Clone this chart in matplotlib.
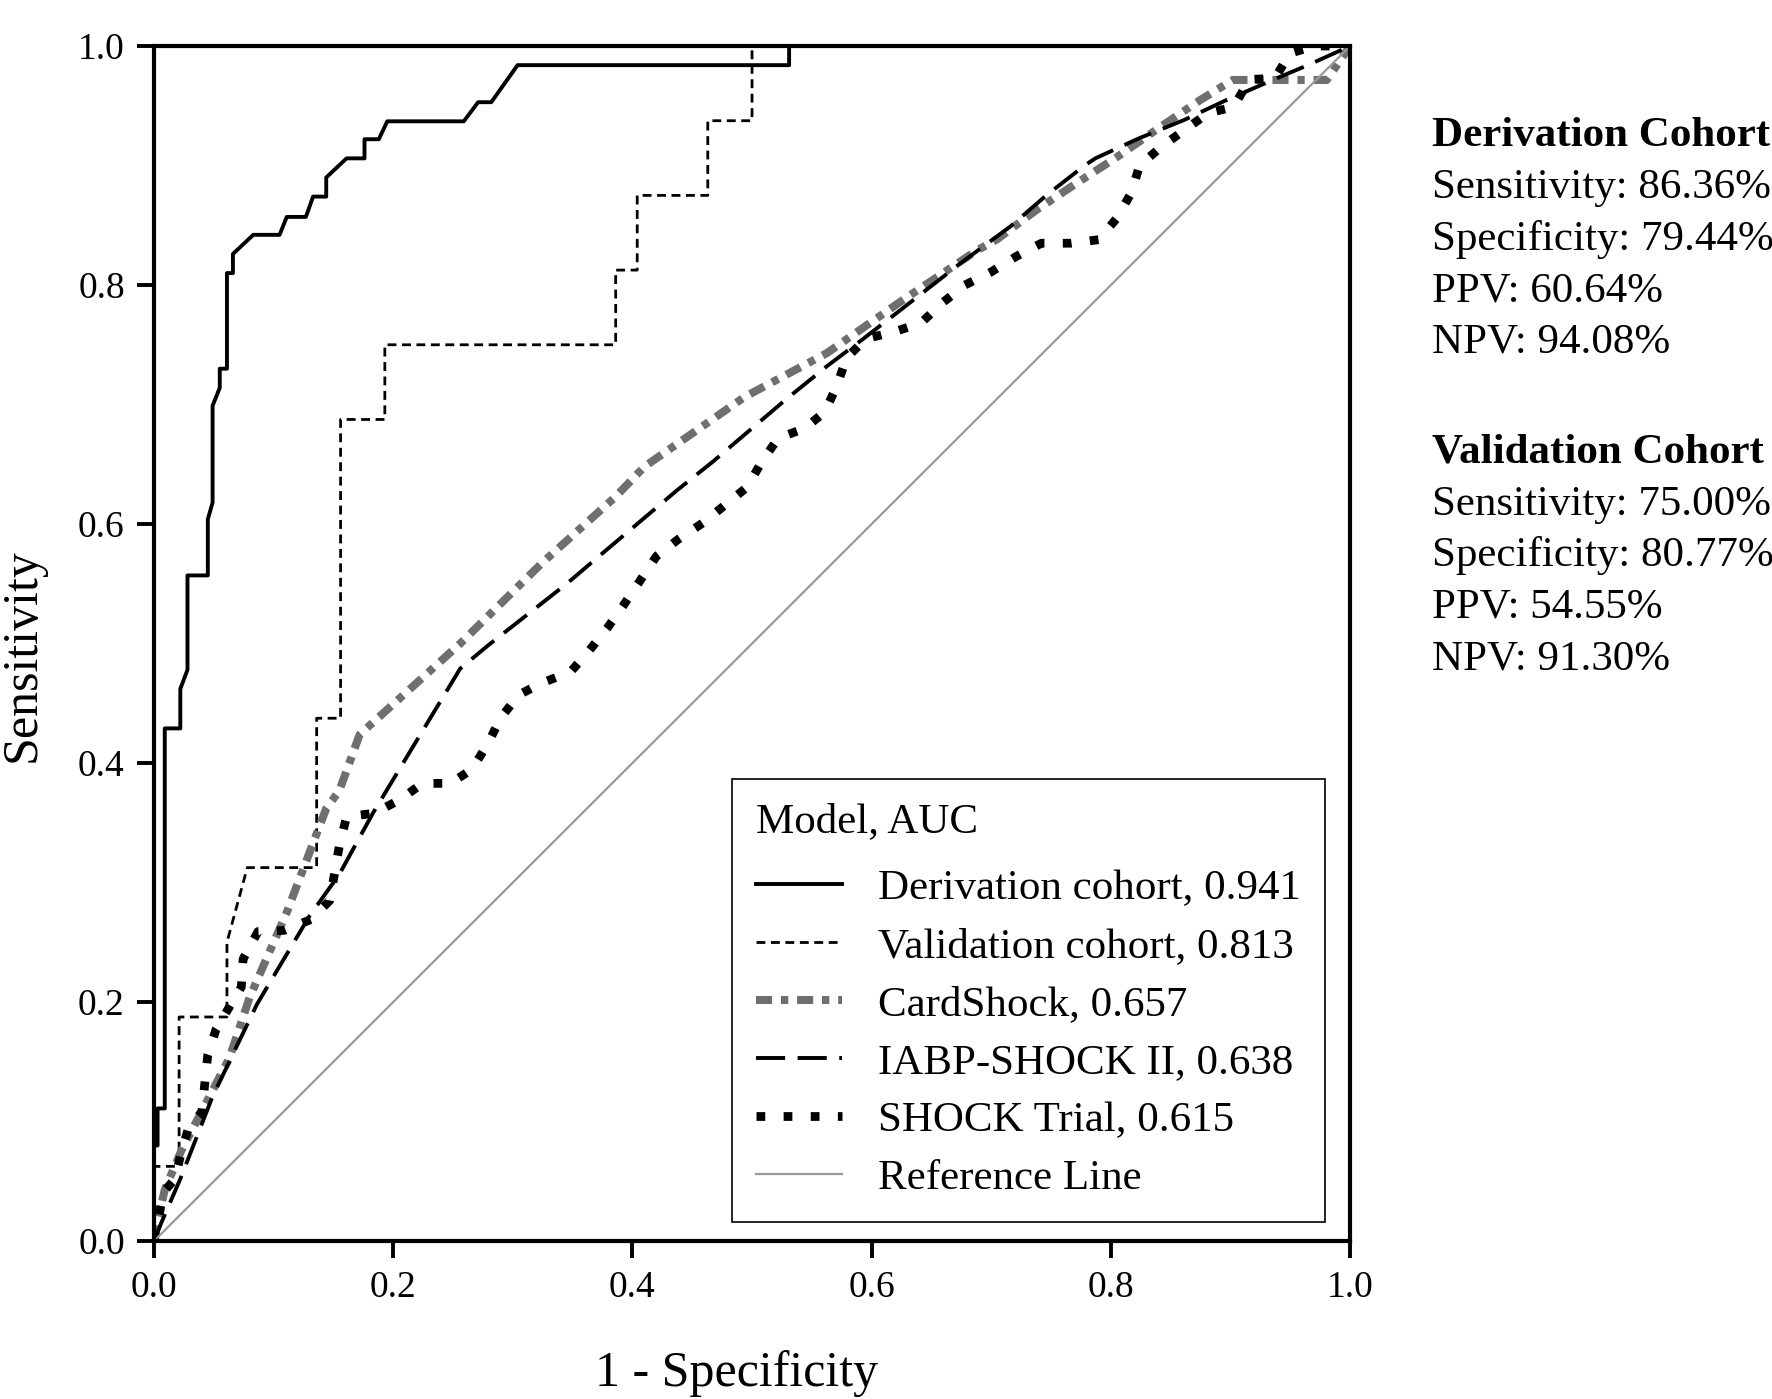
import matplotlib
matplotlib.use("Agg")
import matplotlib.pyplot as plt

plt.rcParams['font.family'] = ['Liberation Serif', 'DejaVu Serif']

# ROC curves: (1 - specificity, sensitivity)
deriv_x = [0, 0, 0.003, 0.003, 0.009, 0.009, 0.022, 0.022, 0.028, 0.028, 0.045, 0.045,
           0.049, 0.049, 0.055, 0.055, 0.061, 0.061, 0.066, 0.066, 0.083, 0.105, 0.111,
           0.127, 0.133, 0.144, 0.144, 0.161, 0.176, 0.176, 0.188, 0.195, 0.259, 0.271,
           0.282, 0.304, 0.531, 0.531, 1.0]
deriv_y = [0, 0.080, 0.080, 0.111, 0.111, 0.429, 0.429, 0.462, 0.478, 0.557, 0.557, 0.604,
           0.618, 0.699, 0.714, 0.730, 0.730, 0.810, 0.810, 0.826, 0.842, 0.842, 0.857,
           0.857, 0.874, 0.874, 0.890, 0.906, 0.906, 0.922, 0.922, 0.937, 0.937, 0.953,
           0.953, 0.984, 0.984, 1.0, 1.0]

valid_x = [0, 0, 0.021, 0.021, 0.061, 0.061, 0.078, 0.136, 0.136, 0.156, 0.156, 0.193,
           0.193, 0.386, 0.386, 0.404, 0.404, 0.463, 0.463, 0.500, 0.500, 1.0]
valid_y = [0, 0.0625, 0.0625, 0.1875, 0.1875, 0.25, 0.3125, 0.3125, 0.4375, 0.4375,
           0.6875, 0.6875, 0.75, 0.75, 0.8125, 0.8125, 0.875, 0.875, 0.9375, 0.9375, 1.0, 1.0]

card_x = [0, 0.005, 0.009, 0.023, 0.063, 0.080, 0.111, 0.144, 0.155, 0.172, 0.192, 0.256,
          0.324, 0.386, 0.410, 0.494, 0.5625, 0.624, 0.688, 0.7045, 0.738, 0.771, 0.805,
          0.841, 0.875, 0.902, 0.9805, 1.0]
card_y = [0, 0.025, 0.043, 0.076, 0.153, 0.204, 0.275, 0.362, 0.377, 0.424, 0.442, 0.500,
          0.567, 0.623, 0.648, 0.7065, 0.743, 0.786, 0.829, 0.838, 0.863, 0.885, 0.907,
          0.932, 0.955, 0.9716, 0.9716, 1.0]

iabp_x = [0, 0.006, 0.022, 0.049, 0.086, 0.130, 0.155, 0.183, 0.211, 0.256, 0.280, 0.345,
          0.372, 0.437, 0.467, 0.528, 0.5625, 0.593, 0.624, 0.674, 0.716, 0.746, 0.778,
          0.787, 0.824, 0.861, 0.897, 0.941, 0.967, 1.0]
iabp_y = [0, 0.015, 0.052, 0.121, 0.198, 0.272, 0.307, 0.358, 0.4045, 0.479, 0.499, 0.550,
          0.573, 0.628, 0.652, 0.704, 0.732, 0.755, 0.779, 0.818, 0.849, 0.875, 0.900,
          0.906, 0.923, 0.938, 0.955, 0.974, 0.985, 1.0]

shock_x = [0, 0.008, 0.0175, 0.023, 0.029, 0.040, 0.0425, 0.045, 0.052, 0.073, 0.0745,
           0.087, 0.109, 0.131, 0.147, 0.155, 0.161, 0.184, 0.205, 0.2245, 0.248, 0.266,
           0.279, 0.290, 0.305, 0.324, 0.348, 0.363, 0.379, 0.3925, 0.406, 0.420, 0.438,
           0.459, 0.4775, 0.496, 0.508, 0.522, 0.544, 0.561, 0.571, 0.579, 0.595, 0.619,
           0.641, 0.659, 0.678, 0.700, 0.721, 0.742, 0.767, 0.790, 0.805, 0.817, 0.824,
           0.8425, 0.862, 0.8815, 0.9025, 0.916, 0.937, 0.950, 0.970, 1.0]
shock_y = [0, 0.041, 0.052, 0.075, 0.095, 0.108, 0.132, 0.156, 0.1775, 0.2125, 0.236,
           0.259, 0.260, 0.269, 0.285, 0.331, 0.355, 0.358, 0.369, 0.383, 0.383, 0.395,
           0.416, 0.438, 0.457, 0.467, 0.476, 0.493, 0.513, 0.532, 0.552, 0.573, 0.587,
           0.601, 0.616, 0.631, 0.652, 0.672, 0.680, 0.694, 0.716, 0.739, 0.755, 0.761,
           0.768, 0.785, 0.800, 0.811, 0.824, 0.835, 0.835, 0.838, 0.856, 0.877, 0.900,
           0.916, 0.930, 0.944, 0.949, 0.972, 0.973, 0.994, 1.0, 1.0]

labels = ["Derivation cohort, 0.941", "Validation cohort, 0.813", "CardShock, 0.657",
          "IABP-SHOCK II, 0.638", "SHOCK Trial, 0.615", "Reference Line"]

ticks = [0.0, 0.2, 0.4, 0.6, 0.8, 1.0]
tick_labels = ["0.0", "0.2", "0.4", "0.6", "0.8", "1.0"]

deriv_text = ["Derivation Cohort", "Sensitivity: 86.36%", "Specificity: 79.44%",
              "PPV: 60.64%", "NPV: 94.08%"]
valid_text = ["Validation Cohort", "Sensitivity: 75.00%", "Specificity: 80.77%",
              "PPV: 54.55%", "NPV: 91.30%"]

fig = plt.figure(figsize=(17.72, 13.99), dpi=100)
ax = fig.add_axes([0.0869, 0.1129, 0.675, 0.8542])

ax.plot(deriv_x, deriv_y, color='black', lw=2.8, label=labels[0])
ax.plot(valid_x, valid_y, color='black', lw=2.0, linestyle=(0, (3.2, 2.0)), label=labels[1])
ax.plot(card_x, card_y, color='#6f6f6f', lw=5.8, linestyle=(0, (2.0, 1.1, 0.9, 1.1)),
        label=labels[2])
ax.plot(iabp_x, iabp_y, color='black', lw=2.8, linestyle=(0, (7.5, 3.2)), label=labels[3])
ax.plot(shock_x, shock_y, color='black', lw=6.3, linestyle=(0, (1, 2.1)), label=labels[4])
ax.plot([0, 1], [0, 1], color='#999999', lw=1.6, label=labels[5])

ax.set_xlim(0, 1)
ax.set_ylim(0, 1)
ax.set_xticks(ticks)
ax.set_xticklabels(tick_labels)
ax.set_yticks(ticks)
ax.set_yticklabels(tick_labels)
ax.tick_params(direction='out', length=12, width=2.8, labelsize=27, pad=9)
for s in ax.spines.values():
    s.set_linewidth(3.0)

ax.set_xlabel("1 - Specificity", fontsize=36, va='center')
ax.set_ylabel("Sensitivity", fontsize=36, va='center')
ax.xaxis.set_label_coords(0.487, -0.111)
ax.yaxis.set_label_coords(-0.110, 0.49)

leg = ax.legend(loc='lower right', bbox_to_anchor=(0.979, 0.016), fontsize=31,
                title="Model, AUC", title_fontsize=31, alignment='left',
                frameon=True, fancybox=False, edgecolor='black', framealpha=1,
                handlelength=2.0, handletextpad=0.85, labelspacing=0.44,
                borderpad=0.55, borderaxespad=0)
leg.get_frame().set_linewidth(1.2)
# a bit more room under the legend title
leg._legend_box.sep = 20

y0 = 0.9025
step = 0.0368
for i, txt in enumerate(deriv_text):
    fig.text(0.808, y0 - i * step, txt, fontsize=31, va='center', ha='left',
             fontweight='bold' if i == 0 else 'normal')
y1 = 0.6762
for i, txt in enumerate(valid_text):
    fig.text(0.808, y1 - i * step, txt, fontsize=31, va='center', ha='left',
             fontweight='bold' if i == 0 else 'normal')

fig.savefig("out.png", dpi=100)
